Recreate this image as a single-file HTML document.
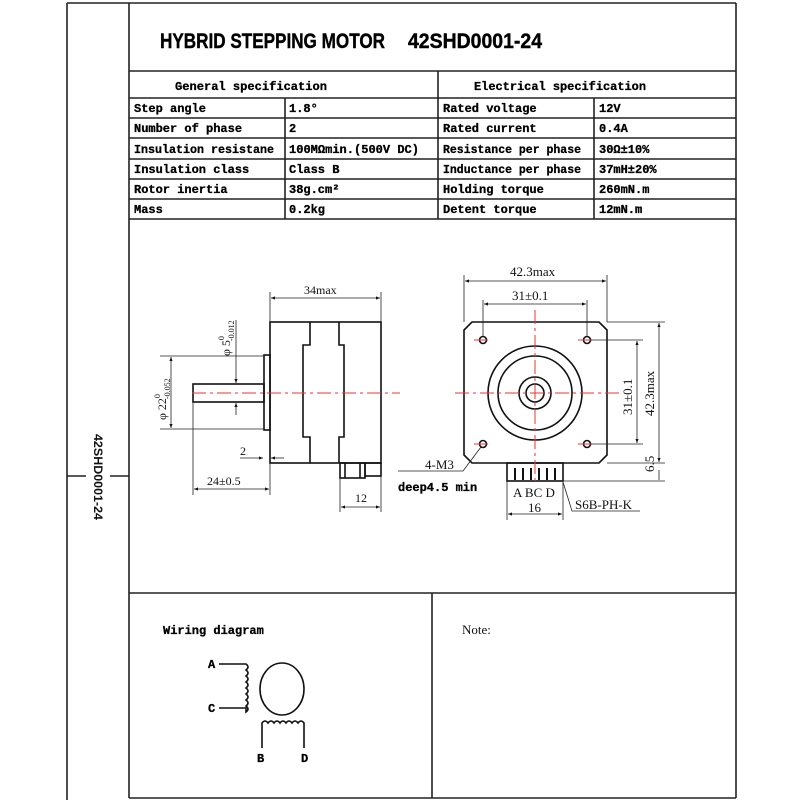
<!DOCTYPE html>
<html><head><meta charset="utf-8"><style>
html,body{margin:0;padding:0;background:#fff;}
svg{display:block;}
.t{font-family:"Liberation Mono",monospace;font-weight:bold;font-size:12px;fill:#000;stroke:#000;stroke-width:0.3;}
.d{font-family:"Liberation Serif",serif;font-size:12px;fill:#111;}
.r{stroke:#e33;stroke-width:1;stroke-dasharray:14 4 3 4;fill:none;}
.thin{stroke:#222;stroke-width:0.8;fill:none;}
.k{stroke:#111;stroke-width:1.6;fill:none;}
</style></head><body>
<svg width="800" height="800" viewBox="0 0 800 800" xmlns="http://www.w3.org/2000/svg">
<defs>
<marker id="a" viewBox="0 0 10 10" refX="10" refY="5" markerWidth="7" markerHeight="5" orient="auto-start-reverse"><path d="M0,1 L10,5 L0,9 z" fill="#111"/></marker>
</defs>
<g stroke="#222" stroke-width="1.6" fill="none">
<line x1="67" y1="3" x2="67" y2="800"/>
<line x1="67" y1="3" x2="736" y2="3"/>
<line x1="129" y1="3" x2="129" y2="798"/>
<line x1="736" y1="3" x2="736" y2="798"/>
<line x1="129" y1="798" x2="736" y2="798"/>
<line x1="129" y1="71" x2="736" y2="71"/>
<line x1="129" y1="98" x2="736" y2="98"/>
<line x1="129" y1="118" x2="736" y2="118"/>
<line x1="129" y1="138" x2="736" y2="138"/>
<line x1="129" y1="159" x2="736" y2="159"/>
<line x1="129" y1="179" x2="736" y2="179"/>
<line x1="129" y1="199" x2="736" y2="199"/>
<line x1="129" y1="219" x2="736" y2="219"/>
<line x1="438" y1="71" x2="438" y2="219"/>
<line x1="285" y1="98" x2="285" y2="219"/>
<line x1="594" y1="98" x2="594" y2="219"/>
<line x1="129" y1="593" x2="736" y2="593"/>
<line x1="432" y1="593" x2="432" y2="798"/>
<line x1="67" y1="476" x2="86" y2="476"/>
<line x1="110" y1="476" x2="129" y2="476"/>
</g>
<text transform="translate(94,434) rotate(90)" style="font-family:'Liberation Sans',sans-serif;font-size:12px;font-weight:bold;fill:#111" textLength="86" lengthAdjust="spacingAndGlyphs">42SHD0001-24</text>
<text x="160" y="48" style="font-family:'Liberation Sans',sans-serif;font-weight:bold;font-size:21px;fill:#000;stroke:#000;stroke-width:0.4" textLength="225" lengthAdjust="spacingAndGlyphs">HYBRID STEPPING MOTOR</text>
<text x="408" y="48" style="font-family:'Liberation Sans',sans-serif;font-weight:bold;font-size:21px;fill:#000;stroke:#000;stroke-width:0.4" textLength="134" lengthAdjust="spacingAndGlyphs">42SHD0001-24</text>
<text class="t" x="175" y="90" textLength="152" lengthAdjust="spacingAndGlyphs">General  specification</text>
<text class="t" x="474" y="90" textLength="172" lengthAdjust="spacingAndGlyphs">Electrical  specification</text>
<g class="t">
<text x="134" y="112">Step angle</text>
<text x="134" y="132">Number of phase</text>
<text x="134" y="153" textLength="140" lengthAdjust="spacingAndGlyphs">Insulation resistane</text>
<text x="134" y="173">Insulation class</text>
<text x="134" y="193">Rotor inertia</text>
<text x="134" y="213">Mass</text>
<text x="289" y="112">1.8°</text>
<text x="289" y="132">2</text>
<text x="289" y="153" textLength="130" lengthAdjust="spacingAndGlyphs">100MΩmin.(500V DC)</text>
<text x="289" y="173">Class B</text>
<text x="289" y="193">38g.cm²</text>
<text x="289" y="213">0.2kg</text>
<text x="443" y="112">Rated voltage</text>
<text x="443" y="132">Rated current</text>
<text x="443" y="153" textLength="138" lengthAdjust="spacingAndGlyphs">Resistance per phase</text>
<text x="443" y="173" textLength="138" lengthAdjust="spacingAndGlyphs">Inductance per phase</text>
<text x="443" y="193">Holding torque</text>
<text x="443" y="213">Detent torque</text>
<text x="599" y="112">12V</text>
<text x="599" y="132">0.4A</text>
<text x="599" y="153">30Ω±10%</text>
<text x="599" y="173">37mH±20%</text>
<text x="599" y="193">260mN.m</text>
<text x="599" y="213">12mN.m</text>
</g>
<g class="k">
<rect x="270" y="322" width="111" height="141"/>
<path d="M310,322 V345 H303 V437 H310 V463"/>
<path d="M339,322 V345 H344 V437 H339 V463"/>
<rect x="264" y="355" width="6" height="75"/>
<rect x="193" y="384" width="71" height="18"/>
<rect x="340" y="463" width="25" height="15"/>
<rect x="365" y="463" width="16" height="13"/>
<line x1="345" y1="463" x2="345" y2="478"/>
<line x1="360" y1="463" x2="360" y2="478"/>
</g>
<line class="r" x1="192" y1="393" x2="400" y2="393"/>
<g class="thin">
<line x1="270" y1="292" x2="270" y2="322"/><line x1="381" y1="292" x2="381" y2="322"/>
<line x1="271" y1="298" x2="380" y2="298" marker-start="url(#a)" marker-end="url(#a)"/>
<line x1="160" y1="356" x2="264" y2="356"/><line x1="160" y1="429" x2="264" y2="429"/>
<line x1="171" y1="357" x2="171" y2="428" marker-start="url(#a)" marker-end="url(#a)"/>
<line x1="236" y1="320" x2="236" y2="383" marker-end="url(#a)"/>
<line x1="236" y1="415" x2="236" y2="403" marker-end="url(#a)"/>
<line x1="193" y1="402" x2="193" y2="495"/><line x1="270" y1="463" x2="270" y2="495"/>
<line x1="194" y1="489" x2="269" y2="489" marker-start="url(#a)" marker-end="url(#a)"/>
<line x1="240" y1="458" x2="263" y2="458" marker-end="url(#a)"/>
<line x1="284" y1="458" x2="271" y2="458" marker-end="url(#a)"/>
<line x1="340" y1="478" x2="340" y2="512"/><line x1="381" y1="476" x2="381" y2="512"/>
<line x1="341" y1="507" x2="380" y2="507" marker-start="url(#a)" marker-end="url(#a)"/>
</g>
<g class="d">
<text x="304" y="294">34max</text>
<text x="240" y="455">2</text>
<text x="207" y="485">24±0.5</text>
<text x="355" y="502">12</text>
<text transform="translate(166,420) rotate(-90)">φ 22<tspan dy="-6" font-size="8">0</tspan><tspan dx="-5" dy="10" font-size="8">-0.052</tspan></text>
<text transform="translate(230,356) rotate(-90)">φ 5<tspan dy="-6" font-size="8">0</tspan><tspan dx="-5" dy="10" font-size="8">-0.012</tspan></text>
</g>
<g class="k">
<path d="M472,322 H599 L607,330 V455 L599,463 H472 L464,455 V330 Z"/>
<circle cx="535" cy="393" r="47"/>
<circle cx="535" cy="393" r="37"/>
<circle cx="535" cy="393" r="16"/>
<circle cx="535" cy="393" r="9"/>
<circle cx="483" cy="340" r="3.5"/><circle cx="587" cy="340" r="3.5"/>
<circle cx="483" cy="444" r="3.5"/><circle cx="587" cy="444" r="3.5"/>
<rect x="507" y="463" width="56" height="18"/>
</g>
<g stroke="#111" stroke-width="2">
<line x1="515" y1="468" x2="515" y2="480"/><line x1="523" y1="468" x2="523" y2="480"/>
<line x1="531" y1="468" x2="531" y2="480"/><line x1="539" y1="468" x2="539" y2="480"/>
<line x1="547" y1="468" x2="547" y2="480"/><line x1="555" y1="468" x2="555" y2="480"/>
</g>
<g class="r">
<line x1="455" y1="393" x2="620" y2="393"/>
<line x1="535" y1="310" x2="535" y2="485"/>
<line x1="474" y1="340" x2="492" y2="340"/><line x1="578" y1="340" x2="596" y2="340"/>
<line x1="474" y1="444" x2="492" y2="444"/><line x1="578" y1="444" x2="596" y2="444"/>
</g>
<g class="thin">
<line x1="464" y1="275" x2="464" y2="322"/><line x1="607" y1="275" x2="607" y2="322"/>
<line x1="465" y1="281" x2="606" y2="281" marker-start="url(#a)" marker-end="url(#a)"/>
<line x1="483" y1="300" x2="483" y2="336"/><line x1="587" y1="300" x2="587" y2="336"/>
<line x1="484" y1="304" x2="586" y2="304" marker-start="url(#a)" marker-end="url(#a)"/>
<line x1="591" y1="340" x2="643" y2="340"/><line x1="591" y1="444" x2="643" y2="444"/>
<line x1="607" y1="322" x2="665" y2="322"/><line x1="607" y1="463" x2="665" y2="463"/>
<line x1="563" y1="481" x2="665" y2="481"/>
<line x1="637" y1="341" x2="637" y2="443" marker-start="url(#a)" marker-end="url(#a)"/>
<line x1="659" y1="323" x2="659" y2="462" marker-start="url(#a)" marker-end="url(#a)"/>
<line x1="659" y1="470" x2="659" y2="480"/>
<line x1="507" y1="481" x2="507" y2="520"/><line x1="563" y1="481" x2="563" y2="520"/>
<line x1="508" y1="514" x2="562" y2="514" marker-start="url(#a)" marker-end="url(#a)"/>
<path d="M563,482 L572,511 H640"/>
<path d="M398,471 H463 L481,447"/>
</g>
<g class="d" style="font-size:13px">
<text x="510" y="276">42.3max</text>
<text x="512" y="300">31±0.1</text>
<text transform="translate(632,415) rotate(-90)">31±0.1</text>
<text transform="translate(654,416) rotate(-90)">42.3max</text>
<text transform="translate(654,472) rotate(-90)">6.5</text>
<text x="513" y="497">A BC D</text>
<text x="528" y="512">16</text>
<text x="575" y="509">S6B-PH-K</text>
<text x="425" y="469">4-M3</text>
</g>
<text x="398" y="491" class="t">deep4.5 min</text>
<text x="163" y="634" class="t">Wiring diagram</text>
<text x="462" y="634" class="d" style="font-size:13px">Note:</text>
<g class="k" stroke-width="1.4">
<path d="M219,664 H246 q4,3 0,6 q4,3 0,6 q4,3 0,6 q4,3 0,6 q4,3 0,6 q4,3 0,6 q4,3 0,6 q4,3 0,6 V708 H219"/>
<ellipse cx="282" cy="689" rx="22" ry="26"/>
<path d="M262,748 V723 q3,-4 6,0 q3,-4 6,0 q3,-4 6,0 q3,-4 6,0 q3,-4 6,0 q3,-4 6,0 q3,-4 6,0 V748"/>
</g>
<g class="t">
<text x="208" y="668">A</text>
<text x="208" y="712">C</text>
<text x="257" y="762">B</text>
<text x="301" y="762">D</text>
</g>
</svg>
</body></html>
